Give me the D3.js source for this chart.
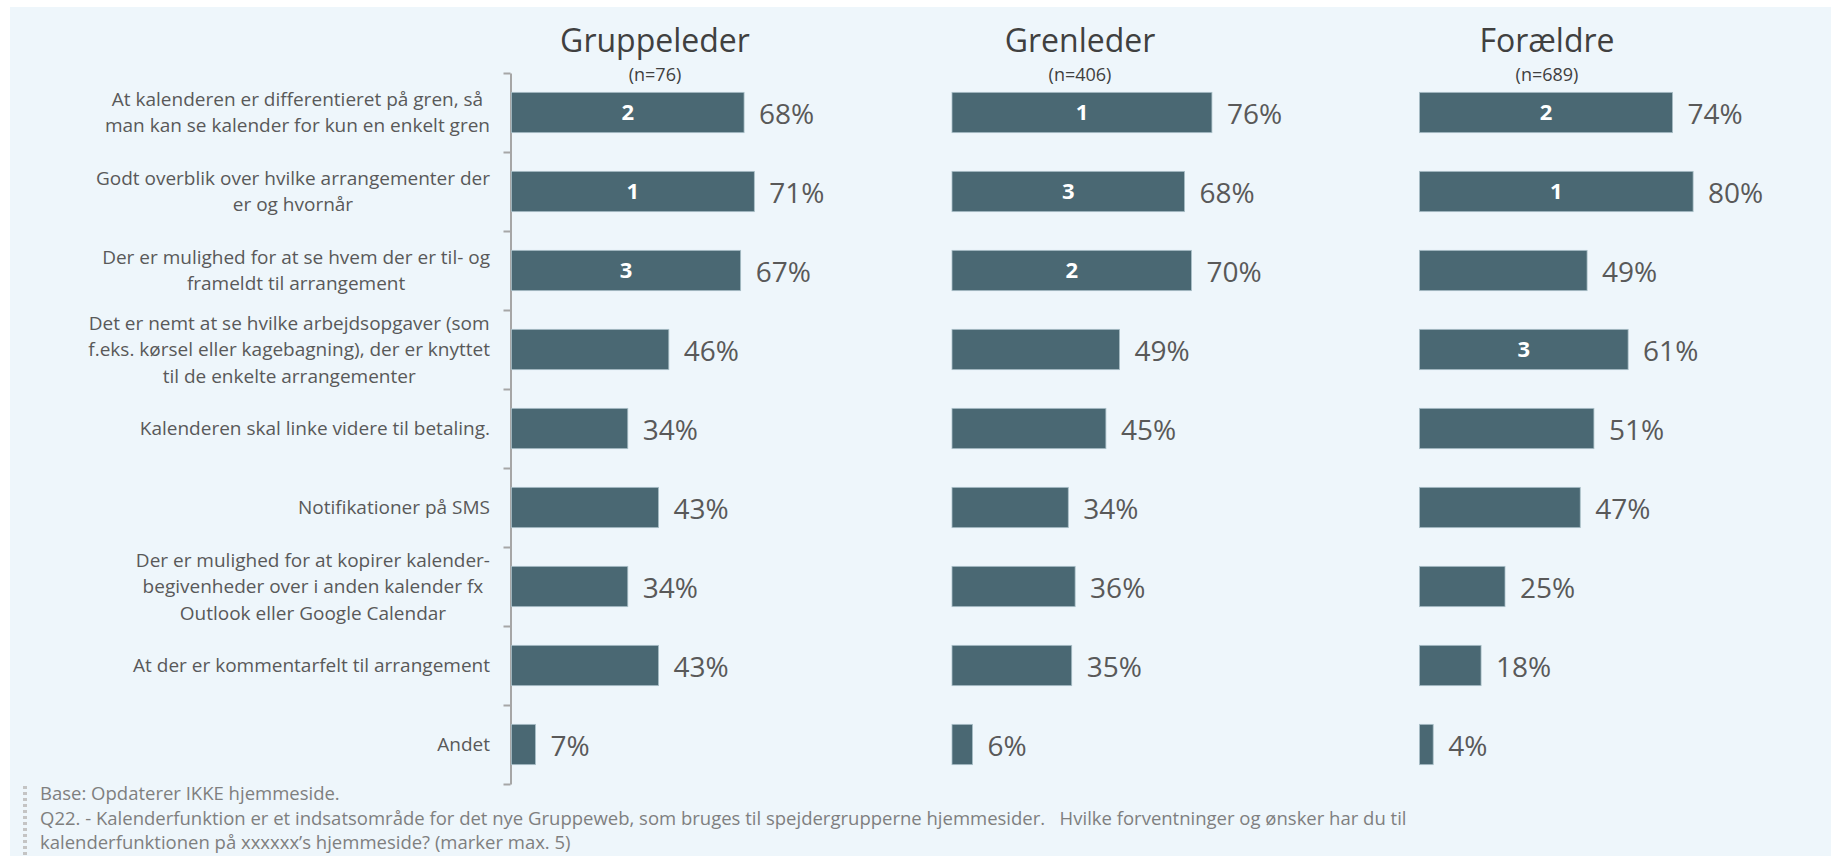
<!doctype html>
<html>
<head>
<meta charset="utf-8">
<script src="https://d3js.org/d3.v7.min.js"></script>
<style>
  body { margin: 0; background: #fff; }
  svg { display: block; font-family: "Open Sans", "DejaVu Sans", sans-serif; }
  .cat { fill: #595959; font-size: 19px; }
  .val { fill: #595959; font-size: 28px; }
  .rank { fill: #fff; font-size: 22px; font-weight: bold; }
  .title { fill: #404040; font-size: 32px; }
  .ncount { fill: #404040; font-size: 18px; }
  .note { fill: #7f7f7f; font-size: 18.5px; white-space: pre; }
  .axis path, .axis line { stroke: #a6a6a6; stroke-width: 2px; }
</style>
</head>
<body>
<svg id="chart" width="1831" height="864"></svg>
<script>

// --- data ---
var categories = [
  "At kalenderen er differentieret på gren, så\nman kan se kalender for kun en enkelt gren",
  "Godt overblik over hvilke arrangementer der\ner og hvornår",
  "Der er mulighed for at se hvem der er til- og\nframeldt til arrangement",
  "Det er nemt at se hvilke arbejdsopgaver (som\nf.eks. kørsel eller kagebagning), der er knyttet\ntil de enkelte arrangementer",
  "Kalenderen skal linke videre til betaling.",
  "Notifikationer på SMS",
  "Der er mulighed for at kopirer kalender-\nbegivenheder over i anden kalender fx\nOutlook eller Google Calendar",
  "At der er kommentarfelt til arrangement",
  "Andet"
];
var groups = ["Gruppeleder", "Grenleder", "Forældre"];
var groupN = ["(n=76)", "(n=406)", "(n=689)"];

var gruppeleder = [68, 71, 67, 46, 34, 43, 34, 43, 7];
var grenleder   = [76, 68, 70, 49, 45, 34, 36, 35, 6];
var foraeldre   = [74, 80, 49, 61, 51, 47, 25, 18, 4];

var rankGruppeleder = [2, 1, 3, null, null, null, null, null, null];
var rankGrenleder   = [1, 3, 2, null, null, null, null, null, null];
var rankForaeldre   = [2, 1, null, 3, null, null, null, null, null];

var notes = [
  "Base: Opdaterer IKKE hjemmeside.",
  "Q22. - Kalenderfunktion er et indsatsområde for det nye Gruppeweb, som bruges til spejdergrupperne hjemmesider.   Hvilke forventninger og ønsker har du til",
  "kalenderfunktionen på xxxxxx’s hjemmeside? (marker max. 5)"
];

var series = [gruppeleder, grenleder, foraeldre];
var ranks = [rankGruppeleder, rankGrenleder, rankForaeldre];

// --- layout ---
var panelX = [510.5, 951, 1418.5];
var titleX = [655, 1080, 1547];
var barColor = "#4a6873";

var svg = d3.select("#chart");

svg.append("rect")
  .attr("x", 10).attr("y", 7)
  .attr("width", 1821).attr("height", 849)
  .attr("fill", "#eef6fb");

var x = d3.scaleLinear().domain([0, 100]).range([0, 342]);

var y = d3.scaleBand()
  .domain(categories)
  .range([73, 784])
  .paddingInner(0.49)
  .paddingOuter(0.245);

// axis with ticks between categories (only first panel)
var tickScale = d3.scaleLinear().domain([0, categories.length]).range([73, 784]);
svg.append("g")
  .attr("class", "axis")
  .attr("transform", "translate(" + panelX[0] + ",0)")
  .call(d3.axisLeft(tickScale)
    .tickValues(d3.range(0, categories.length + 1))
    .tickSize(7)
    .tickSizeOuter(0)
    .tickFormat(""));

// category labels: lines centred on each other, block right-aligned
var catG = svg.append("g");
categories.forEach(function(c) {
  var lines = c.split("\n");
  var g = catG.append("g");
  var lh = 26.5;
  var cy = y(c) + y.bandwidth() / 2;
  lines.forEach(function(l, i) {
    g.append("text")
      .attr("class", "cat")
      .attr("text-anchor", "middle")
      .attr("x", 0)
      .attr("y", cy + (i - (lines.length - 1) / 2) * lh)
      .attr("dy", "0.35em")
      .text(l);
  });
  var maxW = 0;
  g.selectAll("text").each(function() { maxW = Math.max(maxW, this.getComputedTextLength()); });
  g.attr("transform", "translate(" + (490 - maxW / 2) + ",0)");
});

// panels
groups.forEach(function(name, gi) {
  var p = svg.append("g").attr("transform", "translate(" + panelX[gi] + ",0)");
  var rows = categories.map(function(c, i) {
    return { cat: c, value: series[gi][i], rank: ranks[gi][i] };
  });

  svg.append("text")
    .attr("class", "title")
    .attr("text-anchor", "middle")
    .attr("x", titleX[gi]).attr("y", 52)
    .text(name);

  svg.append("text")
    .attr("class", "ncount")
    .attr("text-anchor", "middle")
    .attr("x", titleX[gi]).attr("y", 81)
    .text(groupN[gi]);

  p.selectAll("rect.bar")
    .data(rows)
    .enter().append("rect")
    .attr("class", "bar")
    .attr("x", 1)
    .attr("y", function(d) { return y(d.cat); })
    .attr("width", function(d) { return x(d.value); })
    .attr("height", y.bandwidth())
    .attr("fill", barColor)
    .attr("stroke", "#a9bfc7")
    .attr("stroke-width", 0.8);

  p.selectAll("text.val")
    .data(rows)
    .enter().append("text")
    .attr("class", "val")
    .attr("x", function(d) { return x(d.value) + 16; })
    .attr("y", function(d) { return y(d.cat) + y.bandwidth() / 2 + 2; })
    .attr("dy", "0.35em")
    .text(function(d) { return d.value + "%"; });

  p.selectAll("text.rank")
    .data(rows.filter(function(d) { return d.rank != null; }))
    .enter().append("text")
    .attr("class", "rank")
    .attr("text-anchor", "middle")
    .attr("x", function(d) { return x(d.value) / 2 + 1; })
    .attr("y", function(d) { return y(d.cat) + y.bandwidth() / 2; })
    .attr("dy", "0.35em")
    .text(function(d) { return d.rank; });
});

// footnotes
svg.append("line")
  .attr("x1", 25).attr("x2", 25)
  .attr("y1", 786).attr("y2", 858)
  .attr("stroke", "#c4c4c4")
  .attr("stroke-width", 4)
  .attr("stroke-dasharray", "3,3");

svg.selectAll("text.note")
  .data(notes)
  .enter().append("text")
  .attr("class", "note")
  .attr("x", 40)
  .attr("y", function(d, i) { return 794 + i * 24.5; })
  .attr("dy", "0.35em")
  .text(function(d) { return d; });

</script>
</body>
</html>
